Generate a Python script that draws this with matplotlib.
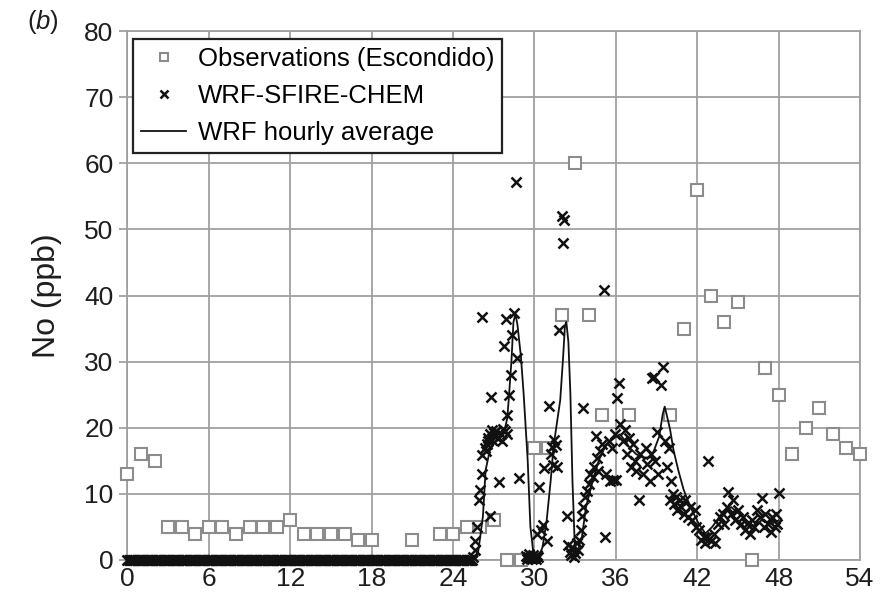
import numpy as np
import matplotlib
matplotlib.use("Agg")
import matplotlib.pyplot as plt

plt.rcParams['font.family'] = ['Liberation Sans', 'DejaVu Sans']
plt.rcParams['mathtext.fontset'] = 'custom'
plt.rcParams['mathtext.rm'] = 'Liberation Sans'
plt.rcParams['mathtext.it'] = 'Liberation Sans:italic'

# Hourly NO observations at Escondido (hours since start of period)
obs_hours = [0, 1, 2, 3, 4, 5, 6, 7, 8, 9, 10, 11, 12, 13, 14, 15, 16, 17, 18,
             21, 23, 24, 25, 26, 27, 28, 29, 30, 31, 32, 33, 34, 35, 37,
             40, 41, 42, 43, 44, 45, 46, 47, 48, 49, 50, 51, 52, 53, 54]
obs_no = [13, 16, 15, 5, 5, 4, 5, 5, 4, 5, 5, 5, 6, 4, 4, 4, 4, 3, 3,
          3, 4, 4, 5, 5, 6, 0, 0, 17, 17, 37, 60, 37, 22, 22,
          22, 35, 56, 40, 36, 39, 0, 29, 25, 16, 20, 23, 19, 17, 16]

# WRF-SFIRE-CHEM output before the plume arrives (5-min output, hours 0-25.42)
wrf_quiet_no = [0, 0, 0, 0, 0, 0, 0, 0, 0, 0, 0, 0, 0, 0, 0, 0, 0,
                0, 0, 0, 0, 0, 0, 0, 0, 0, 0, 0, 0, 0, 0, 0, 0, 0,
                0, 0, 0, 0, 0, 0, 0, 0, 0, 0, 0, 0, 0, 0, 0, 0, 0,
                0, 0, 0, 0, 0, 0, 0, 0, 0, 0, 0, 0, 0, 0, 0, 0, 0,
                0, 0, 0, 0, 0, 0, 0, 0, 0, 0, 0, 0, 0, 0, 0, 0, 0,
                0, 0, 0, 0, 0, 0, 0, 0, 0, 0, 0, 0, 0, 0, 0, 0, 0,
                0, 0, 0, 0, 0, 0, 0, 0, 0, 0, 0, 0, 0, 0, 0, 0, 0,
                0, 0, 0, 0, 0, 0, 0, 0, 0, 0, 0, 0, 0, 0, 0, 0, 0,
                0, 0, 0, 0, 0, 0, 0, 0, 0, 0, 0, 0, 0, 0, 0, 0, 0,
                0, 0, 0, 0, 0, 0, 0, 0, 0, 0, 0, 0, 0, 0, 0, 0, 0,
                0, 0, 0, 0, 0, 0, 0, 0, 0, 0, 0, 0, 0, 0, 0, 0, 0,
                0, 0, 0, 0, 0, 0, 0, 0, 0, 0, 0, 0, 0, 0, 0, 0, 0,
                0, 0, 0, 0, 0, 0, 0, 0, 0, 0, 0, 0, 0, 0, 0, 0, 0,
                0, 0, 0, 0, 0, 0, 0, 0, 0, 0, 0, 0, 0, 0, 0, 0, 0,
                0, 0, 0, 0, 0, 0, 0, 0, 0, 0, 0, 0, 0, 0, 0, 0, 0,
                0, 0, 0, 0, 0, 0, 0, 0, 0, 0, 0, 0, 0, 0, 0, 0, 0,
                0, 0, 0, 0, 0, 0, 0, 0, 0, 0, 0, 0, 0, 0, 0, 0, 0,
                0, 0, 0, 0, 0, 0, 0, 0, 0, 0, 0, 0, 0, 0, 0, 0, 0]
wrf_quiet_hours = np.arange(len(wrf_quiet_no)) / 12.0

# WRF-SFIRE-CHEM output during the smoke episode
wrf_hours = [25.50, 25.60, 25.65, 25.80, 25.90, 25.95, 26.10, 26.16, 26.16, 26.35,
             26.50, 26.60, 26.70, 26.75, 26.78, 26.90, 27.00, 27.10, 27.20, 27.40,
             27.50, 27.60, 27.76, 27.85, 27.88, 28.00, 28.12, 28.25, 28.37, 28.49,
             28.62, 28.74, 28.86, 29.35, 29.42, 29.50, 29.58, 29.65, 29.72, 29.80,
             29.88, 29.95, 30.02, 30.10, 30.18, 30.25, 26.40, 26.55, 26.85, 27.30,
             27.65, 27.95, 30.20, 30.30, 30.50, 30.60, 30.70, 30.90, 31.10, 31.20,
             31.30, 31.40, 31.45, 31.60, 31.65, 31.80, 32.05, 32.15, 32.10, 32.40,
             32.50, 32.60, 32.70, 32.80, 32.90, 33.00, 33.10, 33.20, 33.30, 33.40,
             33.50, 33.55, 33.60, 33.75, 33.90, 34.00, 34.10, 34.30, 34.40, 34.50,
             34.60, 34.70, 34.80, 35.00, 35.10, 35.20, 35.30, 35.50, 35.60, 35.70,
             35.80, 35.90, 36.00, 36.10, 36.20, 36.30, 36.50, 36.70, 36.80, 37.00,
             37.10, 37.30, 37.40, 37.50, 37.70, 37.80, 38.00, 38.20, 38.30, 38.50,
             38.60, 38.70, 38.80, 38.90, 39.00, 39.10, 39.30, 39.50, 39.60, 39.75,
             39.90, 40.00, 40.10, 40.20, 40.30, 40.40, 40.50, 40.70, 40.80, 41.00,
             41.10, 41.30, 41.50, 41.60, 41.80, 41.90, 42.10, 42.30, 42.50, 42.60,
             42.70, 42.80, 43.00, 43.20, 43.30, 43.50, 43.70, 43.90, 44.00, 44.20,
             44.30, 44.50, 44.60, 44.80, 45.00, 45.20, 45.40, 45.50, 45.70, 45.90,
             46.00, 46.20, 46.40, 46.60, 46.80, 46.90, 47.00, 47.20, 47.40, 47.50,
             47.70, 47.80, 47.90, 48.00]
wrf_no = [0.5, 1.5, 2.8, 5.0, 9.1, 10.6, 13.0, 15.9, 36.8, 17.0,
          17.5, 18.5, 6.6, 19.0, 24.7, 18.2, 19.2, 18.7, 19.5, 11.8,
          19.0, 18.0, 32.3, 19.5, 36.5, 22.0, 25.0, 28.0, 34.0, 37.3,
          57.2, 30.5, 12.4, 0.6, 0.2, 0.4, 0.9, 0.3, 0.5, 0.2,
          0.7, 0.3, 0.5, 0.2, 0.8, 0.4, 16.5, 18.0, 19.6, 18.4,
          19.8, 19.0, 4.0, 11.1, 4.5, 5.3, 13.9, 2.8, 23.3, 16.0,
          17.1, 14.4, 18.2, 17.4, 14.1, 34.8, 52.0, 51.4, 47.9, 6.6,
          2.3, 1.2, 0.8, 2.0, 0.5, 1.0, 2.5, 1.5, 3.0, 4.5,
          6.6, 23.0, 8.0, 9.5, 10.5, 11.5, 13.0, 12.6, 14.0, 18.7,
          15.5, 13.5, 16.5, 17.5, 40.8, 3.5, 13.0, 18.0, 12.0, 17.0,
          12.1, 19.0, 12.1, 24.5, 26.7, 20.5, 18.0, 19.7, 16.0, 18.5,
          14.0, 17.5, 15.0, 13.5, 9.1, 16.0, 13.0, 17.0, 14.5, 12.0,
          16.0, 27.5, 27.7, 15.0, 19.4, 13.0, 26.5, 29.2, 18.0, 14.0,
          16.9, 9.0, 12.0, 10.0, 8.5, 9.5, 7.5, 9.0, 8.0, 7.0,
          9.0, 6.5, 8.0, 6.0, 7.5, 5.0, 4.5, 3.0, 3.5, 2.5,
          3.5, 14.9, 2.8, 4.0, 2.5, 5.5, 6.5, 7.0, 5.5, 8.0,
          10.3, 7.0, 9.0, 6.0, 7.5, 5.5, 6.5, 4.5, 5.5, 4.0,
          6.0, 5.0, 7.5, 6.5, 9.3, 5.0, 7.0, 5.5, 4.3, 6.5,
          5.0, 7.0, 5.5, 10.2]

# WRF hourly running average
avg_hours = [0.0, 25.5, 25.8, 26.0, 26.2, 26.4, 26.7, 27.0, 27.5, 27.75,
             28.0, 28.1, 28.3, 28.45, 28.6, 28.75, 29.0, 29.2, 29.5, 29.7,
             29.95, 30.3, 30.6, 30.9, 31.2, 31.4, 31.9, 32.1, 32.25, 32.35,
             32.5, 32.65, 32.8, 33.0, 33.2, 33.5, 33.8, 34.25, 34.75, 35.2,
             35.6, 36.0, 36.3, 36.7, 37.0, 37.5, 38.0, 38.5, 38.8, 39.2,
             39.45, 39.6, 39.8, 40.0, 40.25, 40.6, 41.0, 41.5, 42.1, 42.6,
             43.1, 43.8, 44.5, 45.3, 46.0, 46.75, 47.5, 48.0]
avg_no = [0.0, 0.0, 0.5, 3.5, 6.6, 13.6, 16.5, 17.6, 18.5, 19.2,
          21.5, 24.2, 30.0, 36.0, 37.2, 35.5, 30.8, 25.2, 15.1, 5.0,
          0.5, 0.3, 2.0, 6.0, 12.1, 17.1, 24.2, 30.3, 35.5, 36.0,
          33.0, 25.0, 12.0, 0.5, 1.5, 3.5, 8.0, 11.6, 15.1, 17.1,
          18.0, 18.6, 19.0, 18.0, 17.0, 16.0, 15.5, 15.5, 16.5, 18.7,
          22.0, 23.2, 21.5, 19.7, 16.6, 13.6, 10.6, 8.0, 5.5, 4.0,
          5.0, 7.0, 8.0, 6.6, 5.0, 6.0, 5.5, 6.0]

x_ticks = [0, 6, 12, 18, 24, 30, 36, 42, 48, 54]
y_ticks = [0, 10, 20, 30, 40, 50, 60, 70, 80]

fig = plt.figure(figsize=(8.86, 6.0), dpi=100)
ax = fig.add_axes([0.1439, 0.0667, 0.8268, 0.8815])

grid_c = '#a0a0a0'
text_c = '#1e1e1e'
ax.set_xlim(0, 54)
ax.set_ylim(0, 80)
ax.set_xticks(x_ticks)
ax.set_yticks(y_ticks)
ax.grid(True, color=grid_c, linewidth=1.3)
ax.set_axisbelow(True)
for s in ax.spines.values():
    s.set_color(grid_c)
    s.set_linewidth(1.3)
ax.tick_params(axis='x', length=0, labelsize=19, pad=5, colors=text_c)
ax.tick_params(axis='y', length=6, width=1.3, color=grid_c, labelsize=19,
               pad=4, labelcolor=text_c)

ax.plot(obs_hours, obs_no, linestyle='none', marker='s', markersize=8.5,
        markerfacecolor='white', markeredgecolor='#8c8c8c', markeredgewidth=1.5,
        label='Observations (Escondido)', zorder=3, clip_on=False)
ax.plot(np.concatenate([wrf_quiet_hours, wrf_hours]),
        np.concatenate([wrf_quiet_no, wrf_no]),
        linestyle='none', marker='x', markersize=7.5, markeredgewidth=1.8,
        color='#111111', label='WRF-SFIRE-CHEM', zorder=4, clip_on=False)
ax.plot(avg_hours, avg_no, color='#111111', linewidth=1.3,
        label='WRF hourly average', zorder=5)

ax.set_ylabel('No (ppb)', fontsize=23, labelpad=16, color=text_c)

leg = ax.legend(loc='upper left', bbox_to_anchor=(0.008, 0.985), fontsize=18.5,
                frameon=True, fancybox=False, framealpha=1, edgecolor='#222222',
                borderpad=0.3, labelspacing=0.52, handlelength=1.75,
                handletextpad=0.45, borderaxespad=0)
leg.get_frame().set_linewidth(1.6)
for h in leg.legend_handles[:2]:
    h.set_markersize(6)

fig.text(0.031, 0.963, r'($\it{b}$)', fontsize=18.5, color=text_c,
         ha='left', va='center')

fig.savefig('out.png', dpi=100)
